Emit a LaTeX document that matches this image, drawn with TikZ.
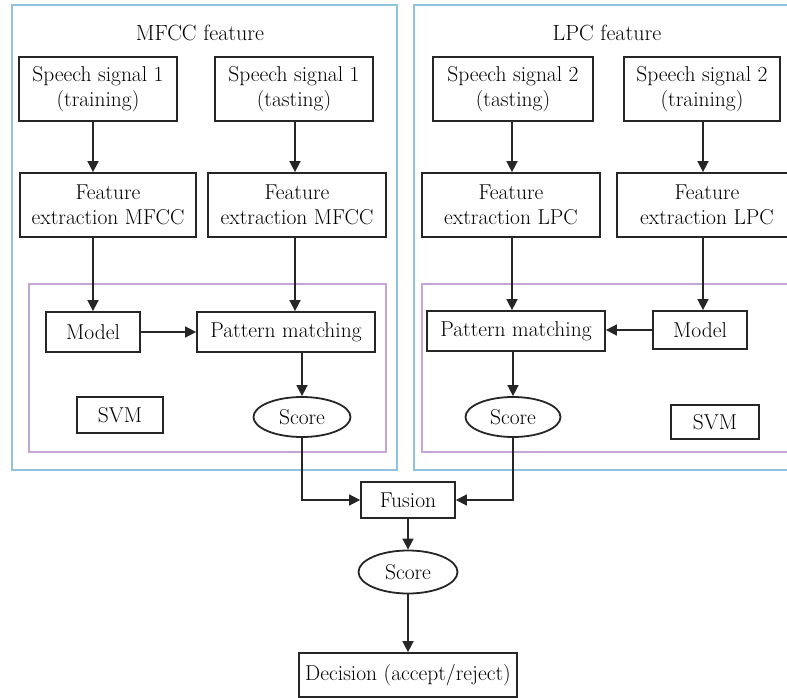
\documentclass[tikz,border=0pt]{standalone}
\usepackage{tikz}
\usetikzlibrary{arrows.meta,shapes.geometric}
\definecolor{frameblue}{RGB}{145,195,225}
\definecolor{framepurple}{RGB}{195,165,215}
\tikzset{
  blk/.style     = {draw=black!85,line width=1.8pt,align=center,inner sep=2pt,
                    font=\fontsize{21.5}{25}\selectfont},
  scr/.style     = {blk,ellipse,inner sep=0pt},
  arr/.style     = {-{Triangle[length=11pt,width=11pt]},line width=1.7pt,black!85},
  outerbox/.style= {draw=frameblue,line width=1.5pt},
  innerbox/.style= {draw=framepurple,line width=1.5pt},
  ttl/.style     = {font=\fontsize{22}{25}\selectfont}
}
\newcommand{\bx}[6]{%
  \node[blk,minimum width=#4pt,minimum height=#5pt] (#1) at (#2,#3) {#6};
}

\begin{document}
\begin{tikzpicture}[x=1pt,y=-1pt]
  \clip (0,0) rectangle (787,698);
  % frames
  \draw[outerbox] (12,5) rectangle (397,470);
  \draw[outerbox] (414,5) rectangle (800,470);
  \draw[innerbox] (29,284) rectangle (386,452);
  \draw[innerbox] (422,284) rectangle (800,452);
  \node[ttl] (t1) at (200,33) {MFCC feature};
  \node[ttl] (t2) at (607,33) {LPC feature};

  % arrow columns
  \coordinate (c2) at (295,0);
  \coordinate (c3) at (512,0);
  \coordinate (c4) at (703,0);

  % MFCC side
  \bx{s1a}{98}{89}{158}{64}{Speech signal 1\\(training)}
  \bx{s1b}{294}{89}{158}{64}{Speech signal 1\\(tasting)}
  \bx{f1a}{108}{205}{176}{64}{Feature\\extraction MFCC}
  \bx{f1b}{297}{205}{178}{64}{Feature\\extraction MFCC}
  \bx{m1}{93}{332}{94}{40}{Model}
  \bx{p1}{286}{332}{178}{40}{Pattern matching}
  \bx{v1}{120}{415}{86}{36}{SVM}
  \node[scr,minimum width=97pt,minimum height=40pt] (sc1) at (302,417) {Score};

  % LPC side
  \bx{s2a}{513}{89}{160}{64}{Speech signal 2\\(tasting)}
  \bx{s2b}{702}{89}{156}{64}{Speech signal 2\\(training)}
  \bx{f2a}{511}{205}{178}{64}{Feature\\extraction LPC}
  \bx{f2b}{707}{205}{180}{64}{Feature\\extraction LPC}
  \bx{p2}{516}{331}{178}{40}{Pattern matching}
  \bx{m2}{700}{330}{94}{38}{Model}
  \bx{v2}{715}{422}{88}{34}{SVM}
  \node[scr,minimum width=95pt,minimum height=40pt] (sc2) at (513,417) {Score};

  % fusion
  \bx{fu}{408}{500}{94}{36}{Fusion}
  \node[scr,minimum width=99pt,minimum height=43pt] (sc3) at (408,572) {Score};
  \bx{dc}{408}{675}{218}{44}{Decision (accept/reject)}

  \draw[arr] (s1a.south -| m1) -- (f1a.north -| m1);
  \draw[arr] (f1a.south -| m1) -- (m1);
  \draw[arr] (s1b.south -| c2) -- (f1b.north -| c2);
  \draw[arr] (f1b.south -| c2) -- (p1.north -| c2);
  \draw[arr] (m1) -- (p1.west |- m1);
  \draw[arr] (p1.south -| sc1) -- (sc1);

  \draw[arr] (s2a.south -| c3) -- (f2a.north -| c3);
  \draw[arr] (f2a.south -| c3) -- (p2.north -| c3);
  \draw[arr] (s2b.south -| c4) -- (f2b.north -| c4);
  \draw[arr] (f2b.south -| c4) -- (m2.north -| c4);
  \draw[arr] (m2) -- (p2.east |- m2);
  \draw[arr] (p2.south -| sc2) -- (sc2);

  \draw[arr] (sc1) |- (fu);
  \draw[arr] (sc2) |- (fu);
  \draw[arr] (fu) -- (sc3);
  \draw[arr] (sc3) -- (dc);
\end{tikzpicture}
\end{document}
